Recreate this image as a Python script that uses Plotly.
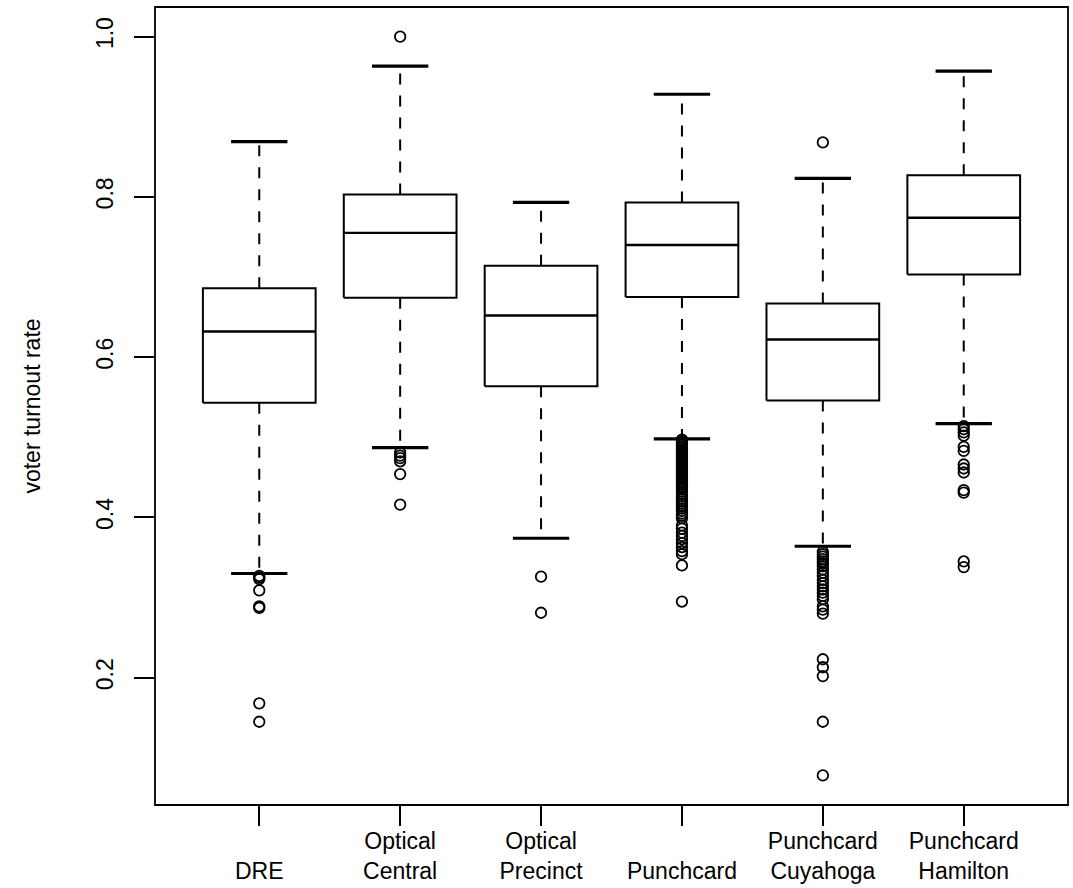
import plotly.graph_objects as go

categories = ["DRE", "Optical Central", "Optical Precinct", "Punchcard",
              "Punchcard Cuyahoga", "Punchcard Hamilton"]
tick_labels = ["<br>DRE", "Optical<br>Central", "Optical<br>Precinct",
               "<br>Punchcard", "Punchcard<br>Cuyahoga", "Punchcard<br>Hamilton"]
y_tick_values = [0.2, 0.4, 0.6, 0.8, 1.0]
y_tick_labels = ["0.2", "0.4", "0.6", "0.8", "1.0"]

upper_whisker = [0.869, 0.963, 0.793, 0.928, 0.823, 0.957]
q3 = [0.686, 0.803, 0.714, 0.793, 0.667, 0.827]
median = [0.632, 0.755, 0.652, 0.740, 0.622, 0.774]
q1 = [0.543, 0.674, 0.5635, 0.675, 0.546, 0.703]
lower_whisker = [0.330, 0.487, 0.374, 0.498, 0.364, 0.517]

outliers_dre = [0.327, 0.325, 0.323, 0.309, 0.289, 0.287, 0.168, 0.145]
outliers_optical_central = [1.000, 0.481, 0.477, 0.474, 0.470, 0.454, 0.416]
outliers_optical_precinct = [0.326, 0.281]
outliers_punchcard = [0.497, 0.495, 0.493, 0.491, 0.489, 0.487, 0.485, 0.483,
                      0.481, 0.479, 0.477, 0.475, 0.473, 0.471, 0.469, 0.467,
                      0.465, 0.463, 0.461, 0.459, 0.457, 0.455, 0.453, 0.451,
                      0.449, 0.447, 0.445, 0.443, 0.441, 0.439, 0.437, 0.435,
                      0.432, 0.429, 0.426, 0.423, 0.420, 0.417, 0.414, 0.411,
                      0.408, 0.405, 0.402, 0.399, 0.390, 0.386, 0.381, 0.377,
                      0.373, 0.368, 0.363, 0.358, 0.354, 0.340, 0.295]
outliers_cuyahoga = [0.868, 0.357, 0.354, 0.351, 0.348, 0.345, 0.342, 0.339,
                     0.335, 0.331, 0.327, 0.322, 0.318, 0.314, 0.310, 0.306,
                     0.302, 0.298, 0.289, 0.285, 0.280, 0.223, 0.213, 0.202,
                     0.145, 0.078]
outliers_hamilton = [0.514, 0.510, 0.506, 0.502, 0.488, 0.483, 0.466, 0.461,
                     0.456, 0.434, 0.431, 0.345, 0.338]

outliers = [outliers_dre, outliers_optical_central, outliers_optical_precinct,
            outliers_punchcard, outliers_cuyahoga, outliers_hamilton]

FONT = "Liberation Sans, Arial, Helvetica, sans-serif"
FS = 23
HALF_BOX = 0.4
HALF_CAP = 0.2

fig = go.Figure()

for i, name in enumerate(categories):
    p = i + 1
    # whiskers (dashed)
    fig.add_trace(go.Scatter(
        x=[p, p, None, p, p],
        y=[q3[i], upper_whisker[i], None, q1[i], lower_whisker[i]],
        mode="lines", line=dict(color="black", width=2, dash="11px,11px"),
        hoverinfo="skip", showlegend=False))
    # staples
    fig.add_trace(go.Scatter(
        x=[p - HALF_CAP, p + HALF_CAP, None, p - HALF_CAP, p + HALF_CAP],
        y=[upper_whisker[i], upper_whisker[i], None, lower_whisker[i], lower_whisker[i]],
        mode="lines", line=dict(color="black", width=3.2),
        hoverinfo="skip", showlegend=False))
    # box
    fig.add_trace(go.Scatter(
        x=[p - HALF_BOX, p + HALF_BOX, p + HALF_BOX, p - HALF_BOX, p - HALF_BOX],
        y=[q1[i], q1[i], q3[i], q3[i], q1[i]],
        mode="lines", line=dict(color="black", width=2),
        fill="toself", fillcolor="white",
        name=name, showlegend=False))
    # median
    fig.add_trace(go.Scatter(
        x=[p - HALF_BOX, p + HALF_BOX], y=[median[i], median[i]],
        mode="lines", line=dict(color="black", width=2.4),
        hoverinfo="skip", showlegend=False))
    # outliers
    fig.add_trace(go.Scatter(
        x=[p] * len(outliers[i]), y=outliers[i], mode="markers",
        marker=dict(symbol="circle-open", size=10.5, color="black",
                    line=dict(width=1.8, color="black")),
        name=name, showlegend=False))

fig.update_layout(
    width=1073, height=888,
    margin=dict(l=155, r=5, t=7, b=83),
    paper_bgcolor="white", plot_bgcolor="white",
    font=dict(family=FONT, size=FS, color="black"),
    shapes=[dict(type="rect", xref="paper", yref="paper", x0=0, y0=0, x1=1, y1=1,
                 line=dict(color="black", width=1.8), layer="above")],
    xaxis=dict(range=[0.26, 6.74], tickmode="array", tickvals=[1, 2, 3, 4, 5, 6],
               ticktext=tick_labels, ticks="outside", ticklen=20, tickwidth=1.6,
               tickcolor="black", showgrid=False, zeroline=False, showline=False,
               ticklabelstandoff=-5,
               tickfont=dict(size=FS, family=FONT)),
    yaxis=dict(range=[0.0411, 1.0369], tickmode="array",
               tickvals=y_tick_values, ticktext=y_tick_labels,
               ticks="outside", ticklen=20, tickwidth=1.6, tickcolor="black",
               tickangle=-90, showgrid=False, zeroline=False, showline=False,
               ticklabelstandoff=12,
               tickfont=dict(size=FS, family=FONT),
               title=dict(text="voter turnout rate", font=dict(size=FS, family=FONT),
                          standoff=44)),
)

fig.write_html("out.html")
